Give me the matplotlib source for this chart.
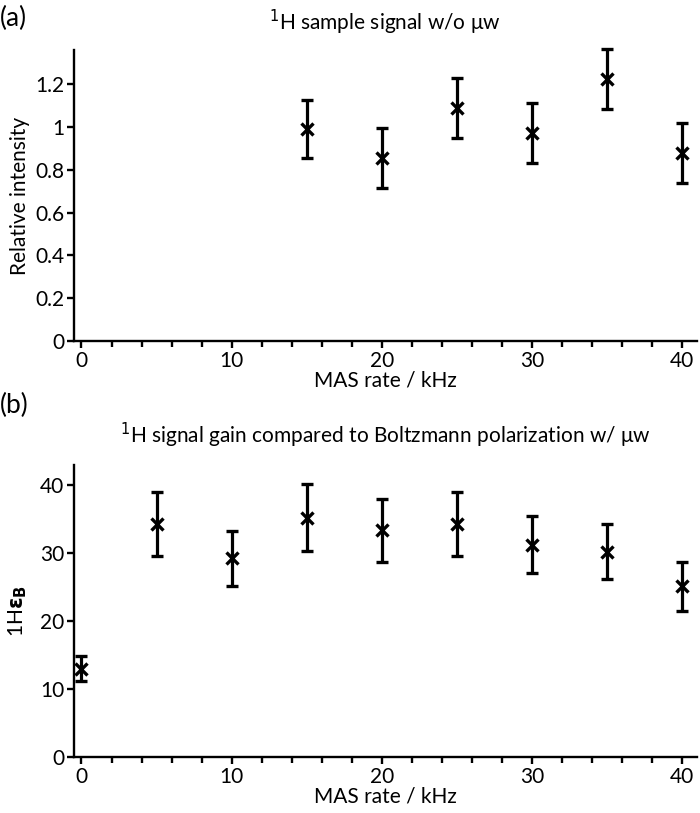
import matplotlib
matplotlib.use("Agg")
import matplotlib.pyplot as plt
from matplotlib.ticker import MultipleLocator, FuncFormatter

plt.rcParams['font.family'] = ['Lato', 'DejaVu Sans']
plt.rcParams['mathtext.fontset'] = 'dejavusans'

# (a) relative intensity without microwaves
rate_a = [15, 20, 25, 30, 35, 40]
intensity = [0.99, 0.855, 1.09, 0.97, 1.225, 0.878]
intensity_err = [0.137, 0.14, 0.14, 0.14, 0.14, 0.14]

# (b) signal gain vs Boltzmann polarization with microwaves
rate_b = [0, 5, 10, 15, 20, 25, 30, 35, 40]
gain = [13.0, 34.3, 29.2, 35.2, 33.3, 34.3, 31.2, 30.2, 25.1]
gain_err = [1.9, 4.7, 4.0, 4.9, 4.6, 4.7, 4.2, 4.1, 3.6]


def style_axes(ax):
    for s in ['top', 'right']:
        ax.spines[s].set_visible(False)
    for s in ['left', 'bottom']:
        ax.spines[s].set_linewidth(1.7)
    ax.tick_params(which='major', direction='out', length=5, width=1.7, labelsize=15, pad=2)
    ax.tick_params(which='minor', direction='out', length=4, width=1.7)
    ax.xaxis.set_major_locator(MultipleLocator(10))
    ax.xaxis.set_minor_locator(MultipleLocator(2))
    ax.set_xlim(-0.5, 41)
    ax.set_xlabel('MAS rate / kHz', fontsize=15, labelpad=0)


def draw(ax, x, y, err):
    ax.errorbar(x, y, yerr=err, fmt='x', color='black', ms=8, mew=2.4,
                elinewidth=2.3, capsize=4, capthick=2.3, clip_on=False)


fig = plt.figure(figsize=(7, 8.13), dpi=100)

ax1 = fig.add_axes([0.1057, 0.5806, 0.89, 0.358])
draw(ax1, rate_a, intensity, intensity_err)
style_axes(ax1)
ax1.set_ylim(0, 1.36)
ax1.yaxis.set_major_locator(MultipleLocator(0.2))
ax1.yaxis.set_major_formatter(FuncFormatter(lambda v, p: '%g' % round(v, 2)))
ax1.set_ylabel('Relative intensity', fontsize=15, labelpad=4)
fig.text(0.0, 0.977, '(a)', fontsize=19, va='center', ha='left')
fig.text(0.55, 0.972, '$^{1}$H sample signal w/o \u03bcw', fontsize=15, va='center', ha='center')

ax2 = fig.add_axes([0.1057, 0.0689, 0.89, 0.359])
draw(ax2, rate_b, gain, gain_err)
style_axes(ax2)
ax2.set_ylim(0, 42.9)
ax2.yaxis.set_major_locator(MultipleLocator(10))
ax2.set_ylabel(r'1H$\mathbf{\epsilon_B}$', fontsize=15, labelpad=8)
fig.text(0.0, 0.501, '(b)', fontsize=19, va='center', ha='left')
fig.text(0.55, 0.465, '$^{1}$H signal gain compared to Boltzmann polarization w/ \u03bcw',
         fontsize=15, va='center', ha='center')

fig.savefig('out.png', dpi=100)
